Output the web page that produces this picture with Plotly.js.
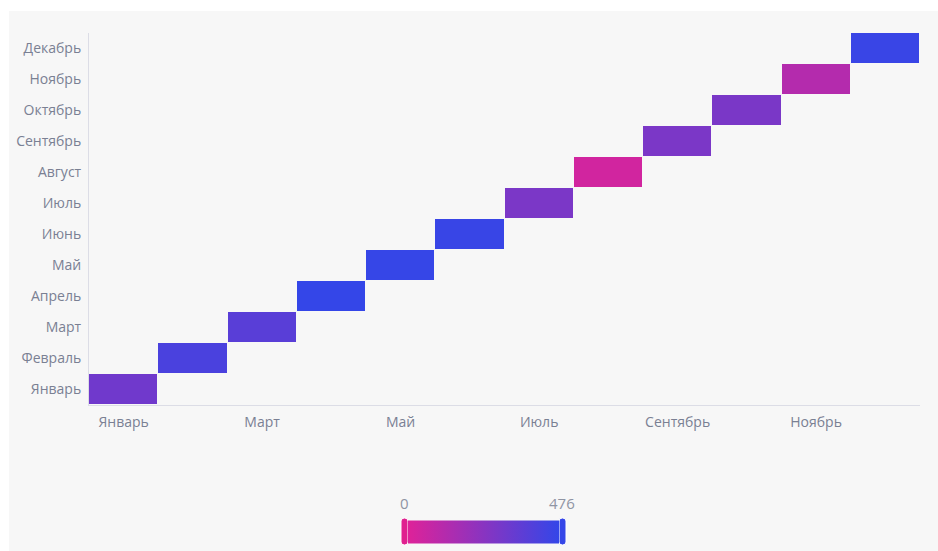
<!DOCTYPE html>
<html>
<head>
<meta charset="utf-8">
<script src="https://cdn.plot.ly/plotly-3.0.1.min.js"></script>
<style>html,body{margin:0;padding:0;background:#fff;}#chart{width:938px;height:551px;}</style>
</head>
<body>
<div id="chart"></div>
<script>
const months = ['Январь','Февраль','Март','Апрель','Май','Июнь','Июль','Август','Сентябрь','Октябрь','Ноябрь','Декабрь'];
const xTickLabels = ['Январь','Март','Май','Июль','Сентябрь','Ноябрь'];
const values = [308, 414, 372, 476, 470, 466, 277, 36, 277, 280, 118, 462];
const minValue = 0;
const maxValue = 476;

const z = months.map((m, r) => months.map((n, c) => (r === c ? values[r] : null)));

const W = 938, H = 551;
const mL = 89, mR = 18, mT = 33, mB = 146;
const pw = W - mL - mR, ph = H - mT - mB;
const px = x => (x - mL) / pw;
const py = y => (H - mB - y) / ph;

const labelColor = '#7a8093';
const font = 'Open Sans, Noto Sans, sans-serif';

const trace = {
  type: 'heatmap',
  x: months,
  y: months,
  z: z,
  zmin: minValue,
  zmax: maxValue,
  xgap: 1,
  ygap: 1,
  colorscale: [[0, '#de2299'], [1, '#3446e8']],
  hoverongaps: false,
  colorbar: {
    orientation: 'h',
    x: px(483.5), xanchor: 'center',
    y: py(531.5), yanchor: 'middle',
    len: 151, lenmode: 'pixels',
    thickness: 23, thicknessmode: 'pixels',
    outlinewidth: 0,
    showticklabels: false,
    ticks: '',
    xpad: 0, ypad: 0
  }
};

function handle(cx, cy, color) {
  return {
    type: 'path', xref: 'paper', yref: 'paper',
    xsizemode: 'pixel', ysizemode: 'pixel',
    xanchor: px(cx), yanchor: py(cy),
    path: 'M -3.5,-10.5 Q -3.5,-13.5 0,-13.5 Q 3.5,-13.5 3.5,-10.5 L 3.5,10.5 Q 3.5,13.5 0,13.5 Q -3.5,13.5 -3.5,10.5 Z',
    fillcolor: color,
    line: {width: 1, color: '#ffffff'},
    layer: 'above'
  };
}

const layout = {
  width: W, height: H,
  margin: {l: mL, r: mR, t: mT, b: mB, pad: 0, autoexpand: false},
  paper_bgcolor: '#ffffff',
  plot_bgcolor: '#f7f7f7',
  font: {family: font, size: 14, color: labelColor},
  showlegend: false,
  xaxis: {
    type: 'category',
    categoryorder: 'array', categoryarray: months,
    tickmode: 'array', tickvals: xTickLabels, ticktext: xTickLabels,
    showgrid: false, zeroline: false,
    showline: true, linecolor: '#dcdde6', linewidth: 1,
    ticks: 'outside', ticklen: 4, tickcolor: 'rgba(0,0,0,0)',
    tickfont: {family: font, size: 14, color: labelColor},
    fixedrange: true
  },
  yaxis: {
    type: 'category',
    categoryorder: 'array', categoryarray: months,
    showgrid: false, zeroline: false,
    showline: true, linecolor: '#dcdde6', linewidth: 1,
    ticks: 'outside', ticklen: 4, tickcolor: 'rgba(0,0,0,0)',
    tickfont: {family: font, size: 14, color: labelColor},
    fixedrange: true
  },
  shapes: [
    {type: 'rect', xref: 'paper', yref: 'paper', x0: px(9), x1: px(938), y0: py(551), y1: py(11),
     fillcolor: '#f7f7f7', line: {width: 0}, layer: 'below'},
    handle(404.5, 531.5, '#e0208f'),
    handle(562.5, 531.5, '#3546e8')
  ],
  annotations: [
    {xref: 'paper', yref: 'paper', x: px(404.5), y: py(503), text: String(minValue), showarrow: false,
     xanchor: 'center', yanchor: 'middle', font: {family: font, size: 15, color: '#8f94a3'}},
    {xref: 'paper', yref: 'paper', x: px(562), y: py(503), text: String(maxValue), showarrow: false,
     xanchor: 'center', yanchor: 'middle', font: {family: font, size: 15, color: '#8f94a3'}}
  ]
};

Plotly.newPlot('chart', [trace], layout, {displayModeBar: false, staticPlot: true});
</script>
</body>
</html>
